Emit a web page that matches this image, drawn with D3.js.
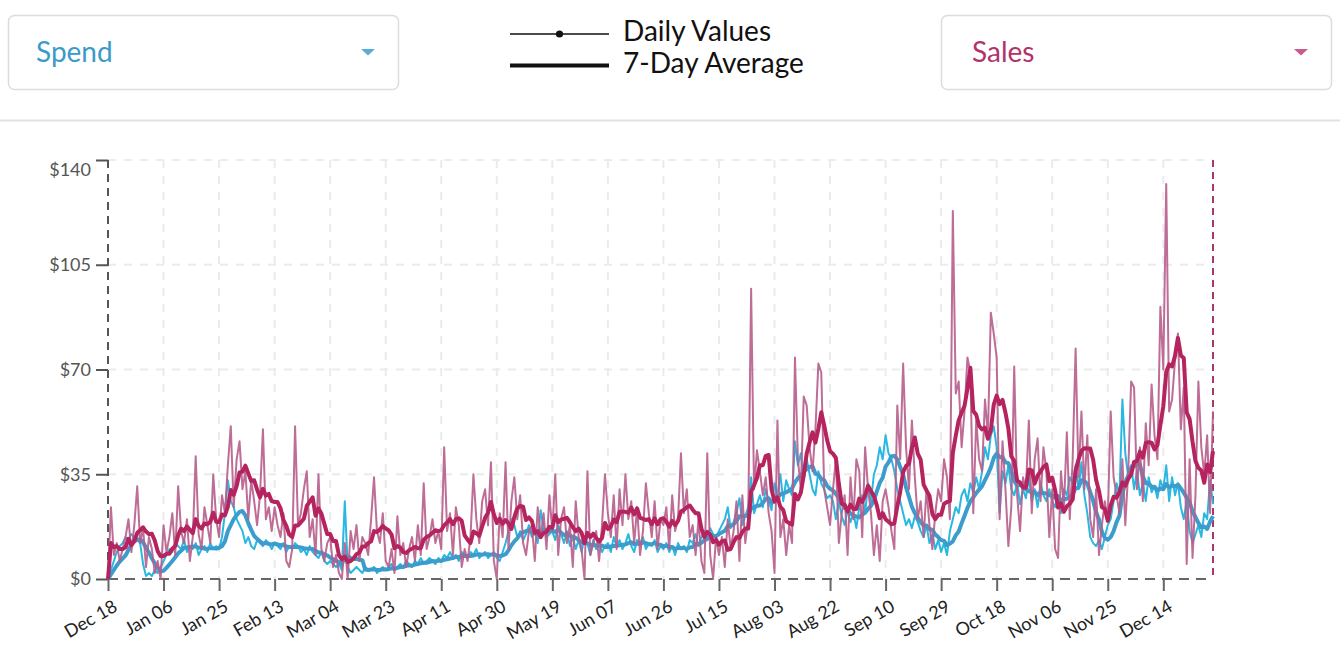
<!DOCTYPE html>
<html>
<head>
<meta charset="utf-8">
<script src="https://cdn.jsdelivr.net/npm/d3@7/dist/d3.min.js"></script>
<style>
  html, body { margin: 0; padding: 0; background: #fff; }
  svg { display: block; font-family: Lato, "Open Sans", sans-serif; }
</style>
</head>
<body>
<svg id="chart" width="1340" height="666"></svg>
<script>
// ---------------- DATA ----------------
const startDay = "2018-12-18";
const tickLabels = ["Dec 18","Jan 06","Jan 25","Feb 13","Mar 04","Mar 23","Apr 11","Apr 30","May 19","Jun 07","Jun 26","Jul 15","Aug 03","Aug 22","Sep 10","Sep 29","Oct 18","Nov 06","Nov 25","Dec 14"];
const yTicks = [0, 35, 70, 105, 140];
const metricLeft = "Spend";
const metricRight = "Sales";
const legendLabels = ["Daily Values", "7-Day Average"];

// Daily spend, one value per day from Dec 18
const spendDaily = [
  0, 3, 6, 9, 11, 12, 14, 13, 15, 14, 13, 12, 5, 1, 2, 1, 3, 2, 4,
  6, 8, 10, 9, 12, 11, 10, 13, 9, 11, 10, 12, 8, 10, 11, 9, 12, 10, 11,
  10, 14, 22, 33, 26, 24, 20, 18, 16, 12, 14, 11, 10, 13, 12, 11, 13, 12, 10,
  12, 11, 10, 12, 9, 11, 10, 12, 11, 9, 10, 8, 11, 9, 8, 7, 9, 6, 5,
  6, 5, 4, 5, 3, 26, 4, 2, 3, 4, 3, 2, 4, 3, 3, 4, 2, 3, 4,
  3, 4, 5, 3, 4, 5, 4, 6, 5, 4, 6, 5, 7, 5, 6, 7, 6, 5, 7,
  6, 8, 7, 9, 7, 8, 6, 9, 8, 7, 9, 8, 10, 7, 8, 9, 7, 8, 9,
  7, 6, 9, 12, 16, 20, 18, 14, 16, 13, 15, 18, 14, 16, 12, 23, 17, 14, 15,
  16, 13, 18, 15, 12, 16, 11, 14, 10, 13, 9, 14, 12, 8, 13, 10, 12, 9, 11,
  12, 9, 14, 11, 13, 10, 12, 15, 11, 9, 13, 12, 14, 10, 12, 11, 13, 9, 11,
  10, 12, 9, 11, 8, 12, 10, 11, 9, 13, 12, 15, 11, 14, 16, 13, 17, 15, 14,
  16, 18, 20, 24, 17, 19, 22, 27, 18, 21, 24, 34, 22, 25, 28, 24, 30, 26, 23,
  32, 28, 35, 26, 33, 30, 28, 46, 38, 42, 33, 40, 35, 30, 28, 36, 32, 30, 27,
  28, 26, 20, 26, 21, 18, 23, 19, 22, 17, 24, 28, 22, 32, 26, 35, 38, 44, 40,
  48, 42, 40, 36, 30, 26, 22, 18, 20, 17, 21, 19, 16, 14, 18, 12, 15, 10, 13,
  9, 12, 8, 16, 20, 24, 22, 28, 30, 26, 32, 29, 34, 30, 36, 44, 40, 48, 51,
  44, 22, 36, 32, 38, 30, 28, 32, 25, 30, 27, 34, 26, 30, 24, 32, 28, 26, 30,
  26, 24, 28, 22, 30, 28, 34, 32, 38, 30, 39, 28, 22, 14, 12, 11, 13, 10, 14,
  18, 20, 26, 32, 28, 60, 42, 34, 38, 30, 36, 28, 32, 26, 34, 29, 31, 27, 33,
  30, 38, 26, 34, 28, 32, 24, 20, 26, 16, 12, 15, 18, 14, 22, 20, 33, 25
];

// Daily sales, one value per day from Dec 18
const salesDaily = [
  0, 24, 8, 12, 6, 10, 14, 20, 9, 18, 31, 12, 17, 4, 14, 10, 2, 6, 0,
  18, 9, 14, 22, 8, 31, 16, 12, 20, 6, 14, 41, 15, 10, 24, 18, 12, 35, 20,
  14, 28, 22, 38, 51, 24, 40, 46, 30, 36, 20, 33, 26, 18, 28, 50, 20, 24, 16,
  24, 18, 14, 22, 6, 4, 10, 51, 18, 22, 30, 36, 14, 20, 8, 35, 10, 6, 12,
  14, 4, 8, 2, 0, 12, 0, 16, 10, 18, 6, 14, 12, 8, 20, 34, 16, 12, 22,
  6, 4, 10, 2, 21, 8, 12, 4, 10, 14, 6, 18, 8, 32, 10, 14, 20, 12, 16,
  10, 44, 16, 22, 8, 24, 18, 4, 10, 6, 14, 35, 20, 12, 26, 30, 18, 39, 6,
  0, 22, 14, 39, 10, 26, 34, 20, 28, 12, 8, 16, 18, 6, 24, 14, 22, 10, 28,
  16, 35, 8, 20, 24, 12, 18, 4, 26, 14, 10, 0, 36, 8, 12, 16, 6, 18, 35,
  22, 14, 28, 10, 30, 18, 35, 20, 26, 12, 24, 8, 16, 32, 22, 14, 26, 10, 20,
  18, 24, 10, 28, 16, 20, 42, 22, 30, 14, 18, 8, 20, 6, 2, 42, 8, 0, 14,
  8, 14, 4, 20, 10, 16, 26, 6, 28, 12, 20, 97, 30, 43, 36, 28, 34, 22, 16,
  2, 53, 14, 20, 8, 18, 12, 74, 40, 30, 61, 58, 44, 36, 50, 72, 69, 30, 24,
  18, 30, 40, 12, 22, 28, 8, 34, 20, 40, 36, 14, 44, 30, 22, 8, 18, 6, 26,
  30, 24, 16, 10, 58, 40, 72, 44, 30, 53, 34, 20, 26, 14, 30, 18, 10, 22, 30,
  26, 40, 34, 20, 123, 62, 66, 44, 56, 74, 69, 22, 53, 40, 36, 60, 48, 89, 82,
  74, 20, 46, 30, 11, 24, 71, 28, 16, 34, 30, 53, 22, 40, 47, 26, 44, 36, 14,
  30, 10, 7, 36, 24, 49, 20, 40, 77, 34, 56, 30, 48, 20, 14, 30, 8, 18, 26,
  20, 56, 34, 28, 22, 40, 18, 36, 66, 64, 30, 44, 26, 52, 38, 65, 48, 40, 91,
  70, 132, 56, 60, 73, 82, 50, 64, 5, 40, 7, 28, 66, 44, 35, 48, 22, 56
];

// ---------------- CHART ----------------
const svg = d3.select("#chart");
const W = 1340;
const parse = d3.timeParse("%Y-%m-%d");
const start = parse(startDay);
const dates = spendDaily.map((_, i) => d3.timeDay.offset(start, i));
const rolling = arr => arr.map((_, i) => d3.mean(arr.slice(Math.max(0, i - 6), i + 1)));
const spendAvg = rolling(spendDaily);
const salesAvg = rolling(salesDaily);

const plotL = 108, plotR = 1213, plotT = 160, plotB = 579;
const x = d3.scaleTime().domain([start, dates[dates.length - 1]]).range([plotL, plotR]);
const y = d3.scaleLinear().domain([0, 140]).range([plotB, plotT]);
const tickDates = tickLabels.map((_, i) => d3.timeDay.offset(start, 19 * i));

const colors = {
  spendText: "#3a9bc9", spendTri: "#5aaed6",
  salesText: "#b1336a", salesTri: "#c95b8c",
  spendDaily: "#2ab7e1", spendAvg: "#3c9dcd",
  salesDaily: "#b65d8b", salesAvg: "#b6245f"
};

// ---- header ----
function dropdown(x0, label, tc, tri, tdx) {
  svg.append("rect").attr("x", x0 + 0.5).attr("y", 15.5).attr("width", 390).attr("height", 74)
    .attr("rx", 6).attr("fill", "#fff").attr("stroke", "#dcdcdc").attr("stroke-width", 1.5);
  svg.append("text").attr("x", x0 + tdx).attr("y", 62).attr("fill", tc)
    .style("font-size", "28px").text(label);
  const tx = x0 + 353;
  svg.append("path").attr("d", `M${tx},49 L${tx + 14},49 L${tx + 7},55.5 Z`).attr("fill", tri);
}
dropdown(8, metricLeft, colors.spendText, colors.spendTri, 28);
dropdown(941, metricRight, colors.salesText, colors.salesTri, 31);
svg.append("line").attr("x1", 0).attr("x2", W).attr("y1", 120.5).attr("y2", 120.5)
  .attr("stroke", "#e2e2e2").attr("stroke-width", 2);

// legend
svg.append("line").attr("x1", 510).attr("x2", 609).attr("y1", 34).attr("y2", 34)
  .attr("stroke", "#111").attr("stroke-width", 1.7);
svg.append("circle").attr("cx", 559.5).attr("cy", 34).attr("r", 3.6).attr("fill", "#111");
svg.append("line").attr("x1", 510).attr("x2", 609).attr("y1", 65.5).attr("y2", 65.5)
  .attr("stroke", "#111").attr("stroke-width", 4);
svg.append("text").attr("x", 623).attr("y", 41).attr("fill", "#111").style("font-size", "28px").text(legendLabels[0]);
svg.append("text").attr("x", 623).attr("y", 73).attr("fill", "#111").style("font-size", "28px").text(legendLabels[1]);

// ---- grid ----
const grid = svg.append("g");
grid.selectAll(".vg").data(tickDates.slice(1)).join("line")
  .attr("x1", d => x(d)).attr("x2", d => x(d)).attr("y1", plotT).attr("y2", plotB)
  .attr("stroke", "#ebebeb").attr("stroke-width", 2).attr("stroke-dasharray", "8,8");
grid.selectAll(".hg").data(yTicks.slice(1)).join("line")
  .attr("x1", plotL).attr("x2", plotR).attr("y1", d => y(d)).attr("y2", d => y(d))
  .attr("stroke", "#ebebeb").attr("stroke-width", 2).attr("stroke-dasharray", "8,8");

// ---- axes ----
const yAxis = svg.append("g").attr("transform", `translate(${plotL},0)`)
  .call(d3.axisLeft(y).tickValues(yTicks).tickSize(12).tickPadding(5).tickFormat(d => "$" + d));
yAxis.select(".domain").remove();
yAxis.selectAll(".tick line").attr("stroke", "#555").attr("stroke-width", 2);
yAxis.selectAll(".tick text").attr("fill", "#555").style("font-size", "18px")
  .style("font-family", "Lato, sans-serif")
  .attr("dy", d => d === yTicks[yTicks.length - 1] ? "0.85em" : "0.32em");

const xAxis = svg.append("g").attr("transform", `translate(0,${plotB})`)
  .call(d3.axisBottom(x).tickValues(tickDates).tickSize(12).tickFormat((d, i) => tickLabels[i]));
xAxis.select(".domain").remove();
xAxis.selectAll(".tick line").attr("stroke", "#666").attr("stroke-width", 2);
xAxis.selectAll(".tick text")
  .attr("text-anchor", "end").attr("fill", "#222")
  .attr("dy", null).attr("y", null)
  .attr("transform", "translate(10,31) rotate(-30)")
  .style("font-size", "18px").style("font-family", "Lato, sans-serif");

// dashed axis lines
svg.append("line").attr("x1", plotL).attr("x2", plotL).attr("y1", plotT).attr("y2", plotB)
  .attr("stroke", "#555").attr("stroke-width", 2).attr("stroke-dasharray", "8,6");
svg.append("line").attr("x1", plotL).attr("x2", plotR).attr("y1", plotB).attr("y2", plotB)
  .attr("stroke", "#666").attr("stroke-width", 2).attr("stroke-dasharray", "10,7");
svg.append("line").attr("x1", plotR).attr("x2", plotR).attr("y1", plotT).attr("y2", plotB)
  .attr("stroke", "#a8386c").attr("stroke-width", 2).attr("stroke-dasharray", "7,5");

// ---- lines ----
const line = arr => d3.line().x((d, i) => x(dates[i])).y(d => y(d))(arr);
const plot = svg.append("g");
plot.append("path").attr("d", line(spendDaily)).attr("fill", "none")
  .attr("stroke", colors.spendDaily).attr("stroke-width", 2).attr("stroke-linejoin", "round");
plot.append("path").attr("d", line(spendAvg)).attr("fill", "none")
  .attr("stroke", colors.spendAvg).attr("stroke-width", 4).attr("stroke-linejoin", "round");
plot.append("path").attr("d", line(salesDaily)).attr("fill", "none")
  .attr("stroke", colors.salesDaily).attr("stroke-width", 2).attr("stroke-linejoin", "round")
  .attr("opacity", 0.9);
plot.append("path").attr("d", line(salesAvg)).attr("fill", "none")
  .attr("stroke", colors.salesAvg).attr("stroke-width", 4).attr("stroke-linejoin", "round");
</script>
</body>
</html>
